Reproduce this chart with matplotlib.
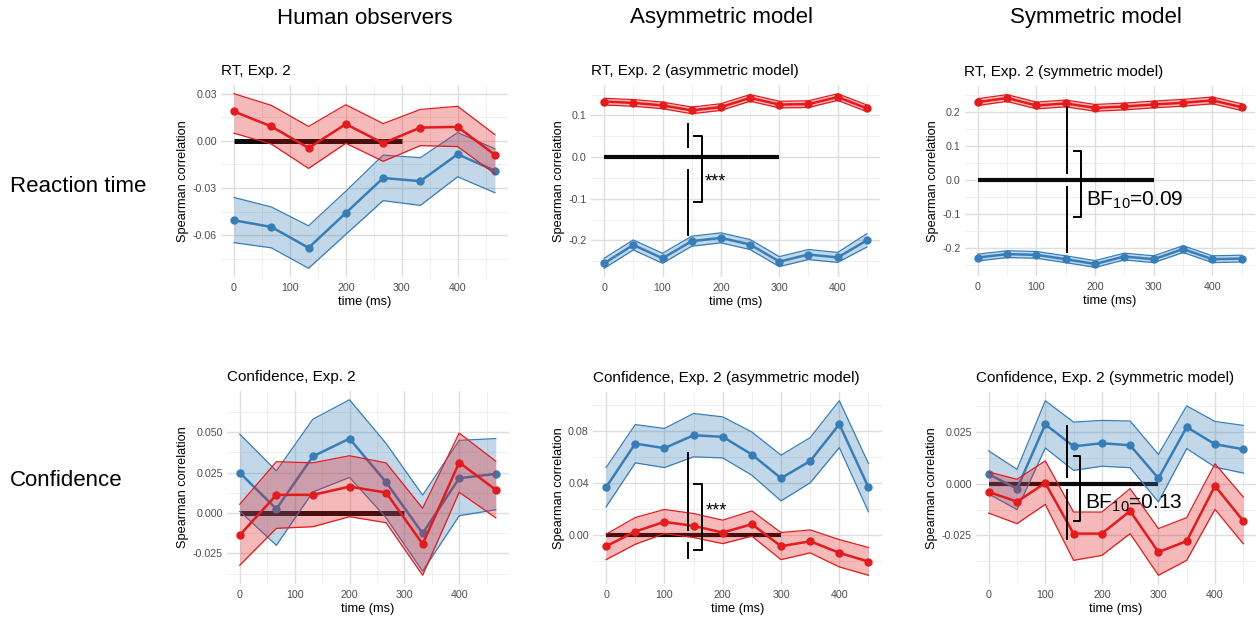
import numpy as np
import matplotlib.pyplot as plt
from matplotlib.ticker import FixedLocator

plt.rcParams['font.family'] = ['Liberation Sans', 'DejaVu Sans']
plt.rcParams['mathtext.fontset'] = 'custom'
plt.rcParams['mathtext.rm'] = 'Liberation Sans'

RED = '#E41A1C'
BLUE = '#377EB8'

# time points (ms)
t_human = [0, 66.7, 133.3, 200, 266.7, 333.3, 400, 466.7]
t_model = [0, 50, 100, 150, 200, 250, 300, 350, 400, 450]

# Reaction time, human observers
rt_hum_red = [0.0187, 0.0092, -0.0045, 0.0107, -0.0015, 0.0085, 0.0089, -0.0089]
rt_hum_red_lo = [0.0049, -0.002, -0.0175, -0.0015, -0.013, -0.003, -0.0036, -0.021]
rt_hum_red_hi = [0.030, 0.0226, 0.0092, 0.023, 0.011, 0.020, 0.022, 0.004]
rt_hum_blue = [-0.0505, -0.0547, -0.068, -0.0458, -0.0236, -0.0256, -0.0085, -0.019]
rt_hum_blue_lo = [-0.0647, -0.068, -0.081, -0.0594, -0.038, -0.041, -0.0228, -0.033]
rt_hum_blue_hi = [-0.036, -0.042, -0.054, -0.032, -0.009, -0.0107, 0.0053, -0.005]

# Reaction time, asymmetric model
rt_asym_red = [0.133, 0.130, 0.124, 0.112, 0.120, 0.142, 0.126, 0.127, 0.144, 0.117]
rt_asym_red_lo = [0.125, 0.122, 0.116, 0.104, 0.112, 0.134, 0.118, 0.119, 0.136, 0.109]
rt_asym_red_hi = [0.141, 0.138, 0.132, 0.120, 0.128, 0.150, 0.134, 0.135, 0.152, 0.125]
rt_asym_blue = [-0.255, -0.211, -0.243, -0.202, -0.194, -0.210, -0.251, -0.234, -0.241, -0.200]
rt_asym_blue_lo = [-0.267, -0.223, -0.255, -0.214, -0.206, -0.222, -0.263, -0.246, -0.253, -0.216]
rt_asym_blue_hi = [-0.243, -0.199, -0.231, -0.190, -0.182, -0.198, -0.239, -0.222, -0.229, -0.184]

# Reaction time, symmetric model
rt_sym_red = [0.230, 0.242, 0.220, 0.226, 0.213, 0.217, 0.223, 0.228, 0.235, 0.215]
rt_sym_red_lo = [0.220, 0.232, 0.210, 0.216, 0.203, 0.207, 0.213, 0.218, 0.225, 0.205]
rt_sym_red_hi = [0.240, 0.252, 0.230, 0.236, 0.223, 0.227, 0.233, 0.238, 0.245, 0.225]
rt_sym_blue = [-0.229, -0.219, -0.221, -0.234, -0.248, -0.226, -0.234, -0.204, -0.234, -0.232]
rt_sym_blue_lo = [-0.239, -0.229, -0.231, -0.244, -0.258, -0.236, -0.244, -0.214, -0.244, -0.242]
rt_sym_blue_hi = [-0.219, -0.209, -0.211, -0.224, -0.238, -0.216, -0.224, -0.194, -0.224, -0.222]

# Confidence, human observers
cf_hum_red = [-0.0137, 0.0112, 0.0112, 0.0163, 0.0126, -0.0192, 0.0312, 0.0143]
cf_hum_red_lo = [-0.0323, -0.0095, -0.0085, -0.0023, -0.006, -0.0385, 0.0128, -0.003]
cf_hum_red_hi = [0.0054, 0.0317, 0.031, 0.0354, 0.031, 0.0029, 0.0494, 0.032]
cf_hum_blue = [0.0248, 0.0025, 0.035, 0.046, 0.019, -0.0126, 0.0215, 0.0242]
cf_hum_blue_lo = [0.001, -0.020, 0.013, 0.022, -0.003, -0.036, -0.0017, 0.002]
cf_hum_blue_hi = [0.0487, 0.026, 0.058, 0.070, 0.043, 0.011, 0.0449, 0.046]

# Confidence, asymmetric model
cf_asym_red = [-0.0087, 0.0026, 0.010, 0.0069, 0.0018, 0.0082, -0.0087, -0.0049, -0.0138, -0.0205]
cf_asym_red_lo = [-0.019, -0.0072, 0.001, -0.002, -0.0067, -0.001, -0.019, -0.0138, -0.0246, -0.031]
cf_asym_red_hi = [0.0005, 0.0133, 0.0195, 0.0164, 0.0113, 0.0184, 0.0018, 0.0038, -0.0036, -0.0097]
cf_asym_blue = [0.0366, 0.0701, 0.0666, 0.0765, 0.0753, 0.0617, 0.0435, 0.0567, 0.085, 0.0364]
cf_asym_blue_lo = [0.0215, 0.0553, 0.0517, 0.0599, 0.0591, 0.0458, 0.0261, 0.040, 0.067, 0.0177]
cf_asym_blue_hi = [0.0517, 0.0847, 0.0817, 0.0932, 0.0906, 0.079, 0.0612, 0.0747, 0.103, 0.0548]

# Confidence, symmetric model
cf_sym_red = [-0.004, -0.0087, 0.0003, -0.0241, -0.0241, -0.0132, -0.033, -0.0277, -0.0011, -0.018]
cf_sym_red_lo = [-0.0142, -0.0193, -0.010, -0.037, -0.0346, -0.0241, -0.0442, -0.037, -0.0124, -0.029]
cf_sym_red_hi = [0.0056, 0.0021, 0.011, -0.0137, -0.0137, -0.0024, -0.0217, -0.0164, 0.0096, -0.0064]
cf_sym_blue = [0.0045, -0.0024, 0.0286, 0.018, 0.0195, 0.0185, 0.0026, 0.0273, 0.019, 0.0166]
cf_sym_blue_lo = [-0.005, -0.0125, 0.0172, 0.0064, 0.0084, 0.0077, -0.0088, 0.0169, 0.008, 0.0051]
cf_sym_blue_hi = [0.0158, 0.0069, 0.040, 0.0297, 0.0305, 0.0302, 0.0141, 0.0375, 0.030, 0.0281]

# y ticks per panel
yt_rt_hum = [-0.06, -0.03, 0.00, 0.03]
yl_rt_hum = ['-0.06', '-0.03', '0.00', '0.03']
yt_rt_asym = [-0.2, -0.1, 0.0, 0.1]
yl_rt_asym = ['-0.2', '-0.1', '0.0', '0.1']
yt_rt_sym = [-0.2, -0.1, 0.0, 0.1, 0.2]
yl_rt_sym = ['-0.2', '-0.1', '0.0', '0.1', '0.2']
yt_cf_hum = [-0.025, 0.0, 0.025, 0.05]
yl_cf_hum = ['-0.025', '0.000', '0.025', '0.050']
yt_cf_asym = [0.0, 0.04, 0.08]
yl_cf_asym = ['0.00', '0.04', '0.08']
yt_cf_sym = [-0.025, 0.0, 0.025]
yl_cf_sym = ['-0.025', '0.000', '0.025']

# statistics annotations: line x, upper seg, lower seg, bracket x, bracket y, text pos, text
ann_rt_asym = (144, (0.025, 0.080), (-0.188, -0.031), (154, 167), (-0.108, 0.051), (173, -0.06), '***')
ann_rt_sym = (153, (0.021, 0.216), (-0.213, -0.020), (164, 176), (-0.110, 0.085), (184, -0.06),
              r'BF$_{10}$=0.09')
ann_cf_asym = (141, (0.0041, 0.0632), (-0.0174, -0.0061), (151, 164), (-0.0118, 0.0387), (171, 0.0184), '***')
ann_cf_sym = (139, (0.0032, 0.0277), (-0.0265, -0.0029), (150, 162), (-0.018, 0.0132), (170, -0.0096),
              r'BF$_{10}$=0.13')

W, H = 1257, 619
fig = plt.figure(figsize=(W / 100, H / 100), dpi=100)


def add_axes_px(left, top, right, bottom):
    return fig.add_axes([left / W, 1 - bottom / H, (right - left) / W, (bottom - top) / H])


def draw_panel(ax, t, red, red_lo, red_hi, blue, blue_lo, blue_hi, title, yt, yl, bar_lw):
    ax.plot([0, 300], [0, 0], color='#0A0A0A', lw=bar_lw, solid_capstyle='butt', zorder=2)
    for m, lo, hi, c in [(blue, blue_lo, blue_hi, BLUE), (red, red_lo, red_hi, RED)]:
        ax.fill_between(t, lo, hi, color=c, alpha=0.3, lw=0, zorder=3)
        ax.plot(t, lo, color=c, lw=0.9, zorder=3)
        ax.plot(t, hi, color=c, lw=0.9, zorder=3)
        ax.plot(t, m, color=c, lw=1.8, marker='o', ms=5, zorder=3)

    ax.set_xticks([0, 100, 200, 300, 400])
    ax.xaxis.set_minor_locator(FixedLocator([50, 150, 250, 350, 450]))
    ax.set_yticks(yt)
    ax.set_yticklabels(yl)
    step = yt[1] - yt[0]
    ax.yaxis.set_minor_locator(FixedLocator(list(np.array(yt) - step / 2) + [yt[-1] + step / 2]))
    ax.tick_params(which='both', length=0, labelsize=7.7, labelcolor='#4D4D4D')
    ax.tick_params(axis='x', pad=4.5)
    ax.tick_params(axis='y', pad=3)
    ax.grid(which='major', color='#DEDEDE', lw=1.0)
    ax.grid(which='minor', color='#EBEBEB', lw=0.6)
    ax.set_axisbelow(True)
    for s in ax.spines.values():
        s.set_visible(False)
    ax.set_xlabel('time (ms)', fontsize=9.2, labelpad=2)
    ax.set_ylabel('Spearman correlation', fontsize=9.2, labelpad=2.5)
    ax.set_title(title, loc='left', fontsize=11, pad=7)


def draw_stats(ax, ann, fs):
    vx, seg1, seg2, bx, by, tp, txt = ann
    ax.plot([vx, vx], seg1, color='black', lw=1.4, zorder=5)
    ax.plot([vx, vx], seg2, color='black', lw=1.4, zorder=5)
    ax.plot([bx[0], bx[1], bx[1], bx[0]], [by[0], by[0], by[1], by[1]], color='black', lw=1.4, zorder=5)
    ax.text(tp[0], tp[1], txt, fontsize=fs, ha='left', va='center', zorder=6)


ax1 = add_axes_px(221, 85, 508, 277)
draw_panel(ax1, t_human, rt_hum_red, rt_hum_red_lo, rt_hum_red_hi,
           rt_hum_blue, rt_hum_blue_lo, rt_hum_blue_hi, 'RT, Exp. 2', yt_rt_hum, yl_rt_hum, 3.6)

ax2 = add_axes_px(591, 85, 880, 277)
draw_panel(ax2, t_model, rt_asym_red, rt_asym_red_lo, rt_asym_red_hi,
           rt_asym_blue, rt_asym_blue_lo, rt_asym_blue_hi, 'RT, Exp. 2 (asymmetric model)',
           yt_rt_asym, yl_rt_asym, 3.0)
draw_stats(ax2, ann_rt_asym, 13)

ax3 = add_axes_px(964.5, 86, 1255, 276)
draw_panel(ax3, t_model, rt_sym_red, rt_sym_red_lo, rt_sym_red_hi,
           rt_sym_blue, rt_sym_blue_lo, rt_sym_blue_hi, 'RT, Exp. 2 (symmetric model)',
           yt_rt_sym, yl_rt_sym, 3.0)
draw_stats(ax3, ann_rt_sym, 15)

ax4 = add_axes_px(227, 391, 508.6, 584)
draw_panel(ax4, t_human, cf_hum_red, cf_hum_red_lo, cf_hum_red_hi,
           cf_hum_blue, cf_hum_blue_lo, cf_hum_blue_hi, 'Confidence, Exp. 2', yt_cf_hum, yl_cf_hum, 3.6)

ax5 = add_axes_px(593, 392, 881.6, 584)
draw_panel(ax5, t_model, cf_asym_red, cf_asym_red_lo, cf_asym_red_hi,
           cf_asym_blue, cf_asym_blue_lo, cf_asym_blue_hi, 'Confidence, Exp. 2 (asymmetric model)',
           yt_cf_asym, yl_cf_asym, 3.0)
draw_stats(ax5, ann_cf_asym, 13)

ax6 = add_axes_px(976, 392, 1256, 584)
draw_panel(ax6, t_model, cf_sym_red, cf_sym_red_lo, cf_sym_red_hi,
           cf_sym_blue, cf_sym_blue_lo, cf_sym_blue_hi, 'Confidence, Exp. 2 (symmetric model)',
           yt_cf_sym, yl_cf_sym, 3.0)
draw_stats(ax6, ann_cf_sym, 15)

# column and row headers
fig.text(365 / W, 1 - 18 / H, 'Human observers', fontsize=16, ha='center', va='center')
fig.text(721.6 / W, 1 - 18 / H, 'Asymmetric model', fontsize=16, ha='center', va='center')
fig.text(1095.5 / W, 1 - 18 / H, 'Symmetric model', fontsize=16, ha='center', va='center')
fig.text(10 / W, 1 - 186 / H, 'Reaction time', fontsize=16, ha='left', va='center')
fig.text(10 / W, 1 - 480 / H, 'Confidence', fontsize=16, ha='left', va='center')

fig.savefig('out.png', dpi=100, facecolor='white')
